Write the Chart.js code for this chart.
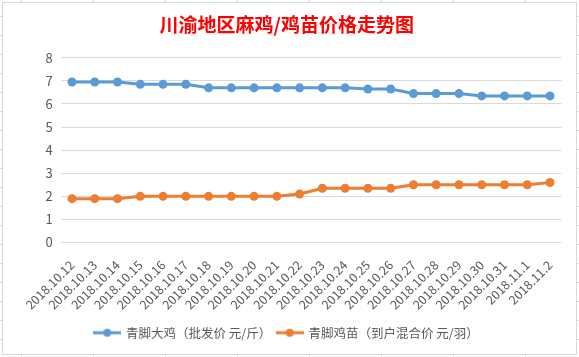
<!DOCTYPE html>
<html><head><meta charset="utf-8">
<script src="https://cdn.jsdelivr.net/npm/chart.js@4"></script>
<style>
html,body{margin:0;padding:0;background:#fff;}
#wrap{position:relative;width:579px;height:357px;overflow:hidden;}
#frame{position:absolute;left:2px;top:2px;width:573px;height:351px;border:1px solid #d9d9d9;pointer-events:none;}
canvas{position:absolute;left:0;top:0;}
.tk{position:absolute;background:#d9d9d9;}
</style></head><body>
<div id="wrap"><canvas id="c" width="579" height="357"></canvas><div id="frame"></div></div>
<script>
const categories = ['2018.10.12','2018.10.13','2018.10.14','2018.10.15','2018.10.16','2018.10.17','2018.10.18','2018.10.19','2018.10.20','2018.10.21','2018.10.22','2018.10.23','2018.10.24','2018.10.25','2018.10.26','2018.10.27','2018.10.28','2018.10.29','2018.10.30','2018.10.31','2018.11.1','2018.11.2'];
const broilerPrice = [6.95,6.95,6.95,6.85,6.85,6.85,6.7,6.7,6.7,6.7,6.7,6.7,6.7,6.65,6.65,6.45,6.45,6.45,6.35,6.35,6.35,6.35];
const chickPrice = [1.9,1.9,1.9,2.0,2.0,2.0,2.0,2.0,2.0,2.0,2.1,2.35,2.35,2.35,2.35,2.5,2.5,2.5,2.5,2.5,2.5,2.6];
const seriesNames = ['青脚大鸡（批发价 元/斤）','青脚鸡苗（到户混合价 元/羽）'];
const titleText = '川渝地区麻鸡/鸡苗价格走势图';
const yMin = 0, yMax = 8, yStep = 1;

// spreadsheet grid stubs outside the chart frame (decoration)
const wrap = document.getElementById('wrap');
function stub(l,t,w,h){const d=document.createElement('div');d.className='tk';d.style.left=l+'px';d.style.top=t+'px';d.style.width=w+'px';d.style.height=h+'px';wrap.appendChild(d);}
for(let x=21;x<579;x+=72){stub(x,0,1,2);stub(x,355,1,2);}
for(let y=16;y<357;y+=19){stub(0,y,2,1);stub(577,y,2,1);}

const CJK = '"Noto Sans CJK SC", "Noto Sans", sans-serif';
const colors = ['#5b9bd5','#ed7d31'];
function legendMark(color){
  const c=document.createElement('canvas');c.width=28;c.height=10;
  const g=c.getContext('2d');
  g.strokeStyle=color;g.lineWidth=3;g.beginPath();g.moveTo(0,5);g.lineTo(28,5);g.stroke();
  g.fillStyle=color;g.beginPath();g.arc(14,5,4,0,Math.PI*2);g.fill();
  return c;
}
const marks = colors.map(legendMark);

new Chart(document.getElementById('c'), {
  type:'line',
  data:{
    labels:categories,
    datasets:[
      {label:seriesNames[0],data:broilerPrice,borderColor:colors[0],backgroundColor:colors[0],borderWidth:3,pointRadius:4.5,pointBorderWidth:0,pointBackgroundColor:colors[0],tension:0},
      {label:seriesNames[1],data:chickPrice,borderColor:colors[1],backgroundColor:colors[1],borderWidth:3,pointRadius:4.5,pointBorderWidth:0,pointBackgroundColor:colors[1],tension:0}
    ]
  },
  options:{
    responsive:false,animation:false,devicePixelRatio:1,
    layout:{padding:{left:12,right:17.6,top:0,bottom:8}},
    plugins:{
      title:{display:true,text:titleText,color:'#ff0000',font:{family:CJK,size:19,weight:'bold'},padding:{top:13,bottom:22}},
      legend:{position:'bottom',labels:{usePointStyle:true,pointStyleWidth:25,color:'#595959',font:{family:CJK,size:12.5},padding:6,
        generateLabels(chart){
          const items=Chart.defaults.plugins.legend.labels.generateLabels(chart);
          items.forEach((it,i)=>{it.pointStyle=marks[i];});
          return items;
        }}},
      tooltip:{enabled:false}
    },
    scales:{
      x:{offset:true,grid:{display:false},border:{display:false},
        ticks:{minRotation:45,maxRotation:45,autoSkip:false,color:'#595959',font:{family:CJK,size:12.5},padding:7},
        afterFit(s){s.height=78;}},
      y:{min:yMin,max:yMax,grid:{color:'#d9d9d9',drawTicks:false},border:{display:false},
        ticks:{stepSize:yStep,color:'#595959',font:{family:CJK,size:13},padding:8},
        afterFit(s){s.width=48.6;}}
    }
  }
});
</script>
</body></html>
